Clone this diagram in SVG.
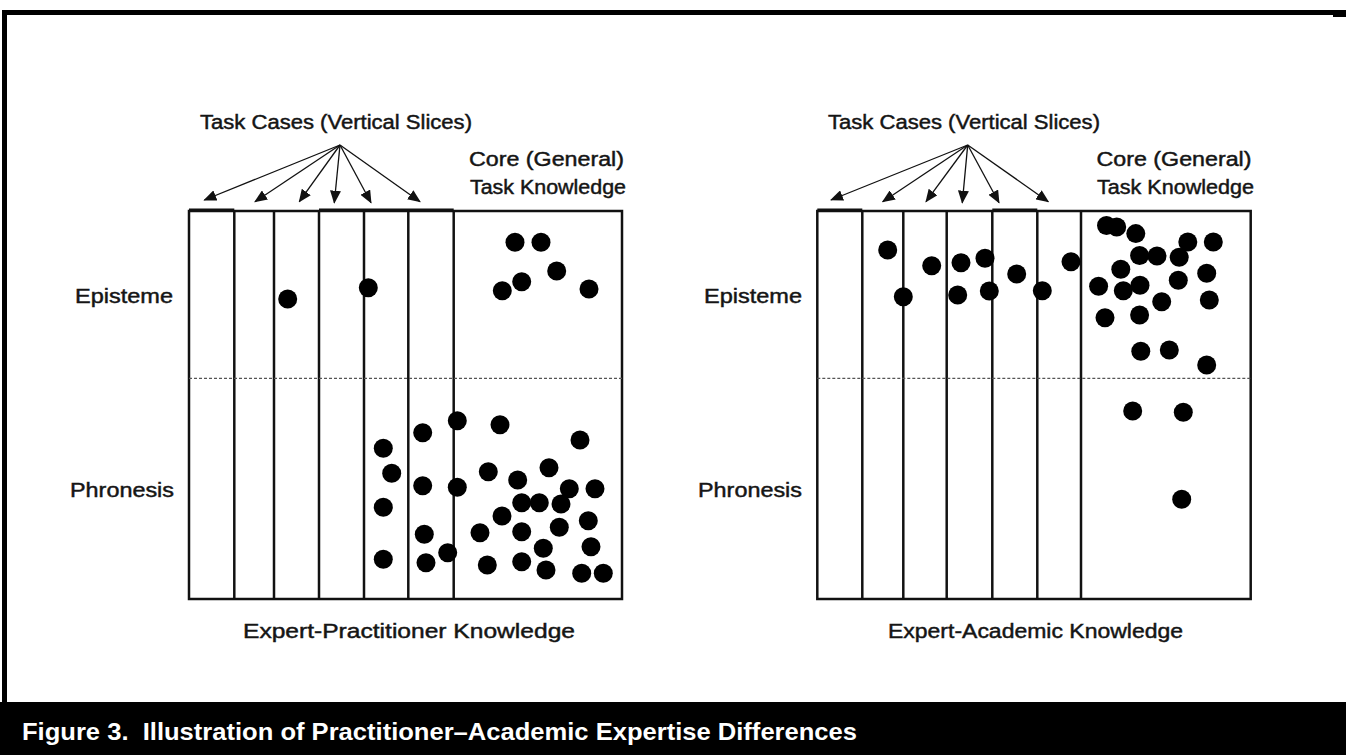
<svg xmlns="http://www.w3.org/2000/svg" width="1346" height="755" viewBox="0 0 1346 755">
<style>
.lbl{font-family:"Liberation Sans",Arial,sans-serif;font-size:20px;fill:#151515;stroke:#151515;stroke-width:0.45px;}
.cap{font-family:"Liberation Sans",Arial,sans-serif;font-size:24px;font-weight:bold;fill:#fff;}
.box{fill:none;stroke:#111;stroke-width:2.5;}
.vl{stroke:#111;stroke-width:2.5;}
.dash{stroke:#555;stroke-width:1.2;stroke-dasharray:3 2;}
.arr{stroke:#111;stroke-width:1.3;fill:none;marker-end:url(#ah);}
.dot{fill:#000;}
</style>
<defs>
<marker id="ah" viewBox="0 0 13 11" refX="12" refY="5.5" markerWidth="13" markerHeight="11" markerUnits="userSpaceOnUse" orient="auto">
<path d="M0,0 L13,5.5 L0,11 Z" fill="#111"/>
</marker>
</defs>
<rect x="0" y="0" width="1346" height="755" fill="#fff"/>
<g id="frame">
<rect x="2" y="10" width="1344" height="5" fill="#000"/>
<rect x="1333" y="10" width="13" height="7" fill="#000"/>
<rect x="2" y="10" width="5" height="700" fill="#000"/>
<rect x="0" y="702" width="1346" height="53" fill="#000"/>
<text class="cap" x="22" y="740" xml:space="preserve" textLength="835" lengthAdjust="spacingAndGlyphs">Figure 3.  Illustration of Practitioner–Academic Expertise Differences</text>
</g>

<g id="left-panel">
<rect class="box" x="189" y="211" width="433" height="388"/>
<line class="vl" x1="234.3" y1="211" x2="234.3" y2="599"/>
<line class="vl" x1="274" y1="211" x2="274" y2="599"/>
<line class="vl" x1="319" y1="211" x2="319" y2="599"/>
<line class="vl" x1="364" y1="211" x2="364" y2="599"/>
<line class="vl" x1="408.3" y1="211" x2="408.3" y2="599"/>
<line class="vl" x1="453.7" y1="211" x2="453.7" y2="599"/>
<line x1="189" y1="209.5" x2="234.3" y2="209.5" stroke="#111" stroke-width="2"/>
<line x1="319" y1="209.5" x2="453.7" y2="209.5" stroke="#111" stroke-width="2"/>
<line class="dash" x1="189" y1="378.3" x2="622" y2="378.3"/>
</g>

<g id="right-panel">
<rect class="box" x="817.3" y="211" width="433.4" height="388"/>
<line class="vl" x1="862.3" y1="211" x2="862.3" y2="599"/>
<line class="vl" x1="903.3" y1="211" x2="903.3" y2="599"/>
<line class="vl" x1="946.7" y1="211" x2="946.7" y2="599"/>
<line class="vl" x1="992.3" y1="211" x2="992.3" y2="599"/>
<line class="vl" x1="1037.3" y1="211" x2="1037.3" y2="599"/>
<line class="vl" x1="1081" y1="211" x2="1081" y2="599"/>
<line x1="817.3" y1="209.5" x2="862.3" y2="209.5" stroke="#111" stroke-width="2"/>
<line x1="992.3" y1="209.5" x2="1037.3" y2="209.5" stroke="#111" stroke-width="2"/>
<line class="dash" x1="817.3" y1="378.3" x2="1250.7" y2="378.3"/>
</g>

<g id="connectors">
<line class="arr" x1="340" y1="145" x2="204.3" y2="200"/>
<line class="arr" x1="340" y1="145" x2="255" y2="201.7"/>
<line class="arr" x1="340" y1="145" x2="299.3" y2="201.7"/>
<line class="arr" x1="340" y1="145" x2="334.3" y2="202.7"/>
<line class="arr" x1="340" y1="145" x2="371" y2="202.7"/>
<line class="arr" x1="340" y1="145" x2="420" y2="201.7"/>
<line class="arr" x1="967.7" y1="145" x2="831" y2="200"/>
<line class="arr" x1="967.7" y1="145" x2="882.7" y2="201.7"/>
<line class="arr" x1="967.7" y1="145" x2="926" y2="201.7"/>
<line class="arr" x1="967.7" y1="145" x2="962.3" y2="202.7"/>
<line class="arr" x1="967.7" y1="145" x2="999" y2="202.7"/>
<line class="arr" x1="967.7" y1="145" x2="1048.3" y2="201.7"/>
</g>

<g id="left-labels">
<text class="lbl" x="200" y="129" textLength="272" lengthAdjust="spacingAndGlyphs">Task Cases (Vertical Slices)</text>
<text class="lbl" x="469" y="166" textLength="155" lengthAdjust="spacingAndGlyphs">Core (General)</text>
<text class="lbl" x="470" y="194" textLength="156" lengthAdjust="spacingAndGlyphs">Task Knowledge</text>
<text class="lbl" x="75" y="302.5" textLength="98" lengthAdjust="spacingAndGlyphs">Episteme</text>
<text class="lbl" x="70" y="496.5" textLength="104" lengthAdjust="spacingAndGlyphs">Phronesis</text>
<text class="lbl" x="243" y="638" textLength="332" lengthAdjust="spacingAndGlyphs">Expert-Practitioner Knowledge</text>
</g>

<g id="right-labels">
<text class="lbl" x="828" y="129" textLength="272" lengthAdjust="spacingAndGlyphs">Task Cases (Vertical Slices)</text>
<text class="lbl" x="1096.5" y="166" textLength="155" lengthAdjust="spacingAndGlyphs">Core (General)</text>
<text class="lbl" x="1097" y="194" textLength="157" lengthAdjust="spacingAndGlyphs">Task Knowledge</text>
<text class="lbl" x="704" y="302.5" textLength="98" lengthAdjust="spacingAndGlyphs">Episteme</text>
<text class="lbl" x="698" y="496.5" textLength="104" lengthAdjust="spacingAndGlyphs">Phronesis</text>
<text class="lbl" x="888" y="638" textLength="295" lengthAdjust="spacingAndGlyphs">Expert-Academic Knowledge</text>
</g>

<g id="left-dots">
<circle class="dot" cx="287.7" cy="299" r="9.5"/>
<circle class="dot" cx="368.3" cy="287.7" r="9.5"/>
<circle class="dot" cx="515" cy="242.3" r="9.5"/>
<circle class="dot" cx="541" cy="242.3" r="9.5"/>
<circle class="dot" cx="556.7" cy="271" r="9.5"/>
<circle class="dot" cx="521.7" cy="281.7" r="9.5"/>
<circle class="dot" cx="502.3" cy="290.7" r="9.5"/>
<circle class="dot" cx="589" cy="289" r="9.5"/>
<circle class="dot" cx="383.3" cy="448.3" r="9.5"/>
<circle class="dot" cx="391.7" cy="473.3" r="9.5"/>
<circle class="dot" cx="383.3" cy="507.3" r="9.5"/>
<circle class="dot" cx="383.3" cy="559.3" r="9.5"/>
<circle class="dot" cx="422.7" cy="432.7" r="9.5"/>
<circle class="dot" cx="422.7" cy="485.7" r="9.5"/>
<circle class="dot" cx="424.3" cy="534.3" r="9.5"/>
<circle class="dot" cx="426" cy="562.7" r="9.5"/>
<circle class="dot" cx="457.3" cy="420.7" r="9.5"/>
<circle class="dot" cx="457.3" cy="487.3" r="9.5"/>
<circle class="dot" cx="447.7" cy="552.7" r="9.5"/>
<circle class="dot" cx="500" cy="424.7" r="9.5"/>
<circle class="dot" cx="580" cy="440" r="9.5"/>
<circle class="dot" cx="488.3" cy="471.7" r="9.5"/>
<circle class="dot" cx="517.7" cy="480" r="9.5"/>
<circle class="dot" cx="549" cy="467.7" r="9.5"/>
<circle class="dot" cx="569.3" cy="488.7" r="9.5"/>
<circle class="dot" cx="595" cy="488.7" r="9.5"/>
<circle class="dot" cx="521.7" cy="502.7" r="9.5"/>
<circle class="dot" cx="539.3" cy="502.7" r="9.5"/>
<circle class="dot" cx="561" cy="504" r="9.5"/>
<circle class="dot" cx="502" cy="516" r="9.5"/>
<circle class="dot" cx="480" cy="532.7" r="9.5"/>
<circle class="dot" cx="521.7" cy="531.7" r="9.5"/>
<circle class="dot" cx="559.3" cy="527.3" r="9.5"/>
<circle class="dot" cx="588.3" cy="520.7" r="9.5"/>
<circle class="dot" cx="543.3" cy="548.3" r="9.5"/>
<circle class="dot" cx="591" cy="546.7" r="9.5"/>
<circle class="dot" cx="487.3" cy="565" r="9.5"/>
<circle class="dot" cx="521.7" cy="561.7" r="9.5"/>
<circle class="dot" cx="546" cy="570" r="9.5"/>
<circle class="dot" cx="581.7" cy="573.3" r="9.5"/>
<circle class="dot" cx="603.3" cy="573.3" r="9.5"/>
</g>

<g id="right-dots">
<circle class="dot" cx="887.7" cy="250" r="9.5"/>
<circle class="dot" cx="903.3" cy="296.7" r="9.5"/>
<circle class="dot" cx="931.7" cy="265.7" r="9.5"/>
<circle class="dot" cx="961" cy="262.7" r="9.5"/>
<circle class="dot" cx="985" cy="258.3" r="9.5"/>
<circle class="dot" cx="957.7" cy="295" r="9.5"/>
<circle class="dot" cx="989.3" cy="291" r="9.5"/>
<circle class="dot" cx="1016.7" cy="274" r="9.5"/>
<circle class="dot" cx="1042.3" cy="290.7" r="9.5"/>
<circle class="dot" cx="1071" cy="261.7" r="9.5"/>
<circle class="dot" cx="1106.5" cy="225.5" r="9.5"/>
<circle class="dot" cx="1116.7" cy="227" r="9.5"/>
<circle class="dot" cx="1135.8" cy="233.6" r="9.5"/>
<circle class="dot" cx="1187.8" cy="242" r="9.5"/>
<circle class="dot" cx="1213.3" cy="242" r="9.5"/>
<circle class="dot" cx="1139.6" cy="255.5" r="9.5"/>
<circle class="dot" cx="1157" cy="256" r="9.5"/>
<circle class="dot" cx="1179.2" cy="257.3" r="9.5"/>
<circle class="dot" cx="1120.8" cy="269.3" r="9.5"/>
<circle class="dot" cx="1098.6" cy="286.3" r="9.5"/>
<circle class="dot" cx="1123.3" cy="290.7" r="9.5"/>
<circle class="dot" cx="1140" cy="285.3" r="9.5"/>
<circle class="dot" cx="1178.3" cy="280.3" r="9.5"/>
<circle class="dot" cx="1206.7" cy="273.3" r="9.5"/>
<circle class="dot" cx="1161.7" cy="301.7" r="9.5"/>
<circle class="dot" cx="1209.3" cy="300" r="9.5"/>
<circle class="dot" cx="1105" cy="317.8" r="9.5"/>
<circle class="dot" cx="1139.6" cy="315" r="9.5"/>
<circle class="dot" cx="1140.8" cy="351.2" r="9.5"/>
<circle class="dot" cx="1169.3" cy="350" r="9.5"/>
<circle class="dot" cx="1206.7" cy="365" r="9.5"/>
<circle class="dot" cx="1132.7" cy="411" r="9.5"/>
<circle class="dot" cx="1183.3" cy="412.3" r="9.5"/>
<circle class="dot" cx="1181.7" cy="499.3" r="9.5"/>
</g>
</svg>
